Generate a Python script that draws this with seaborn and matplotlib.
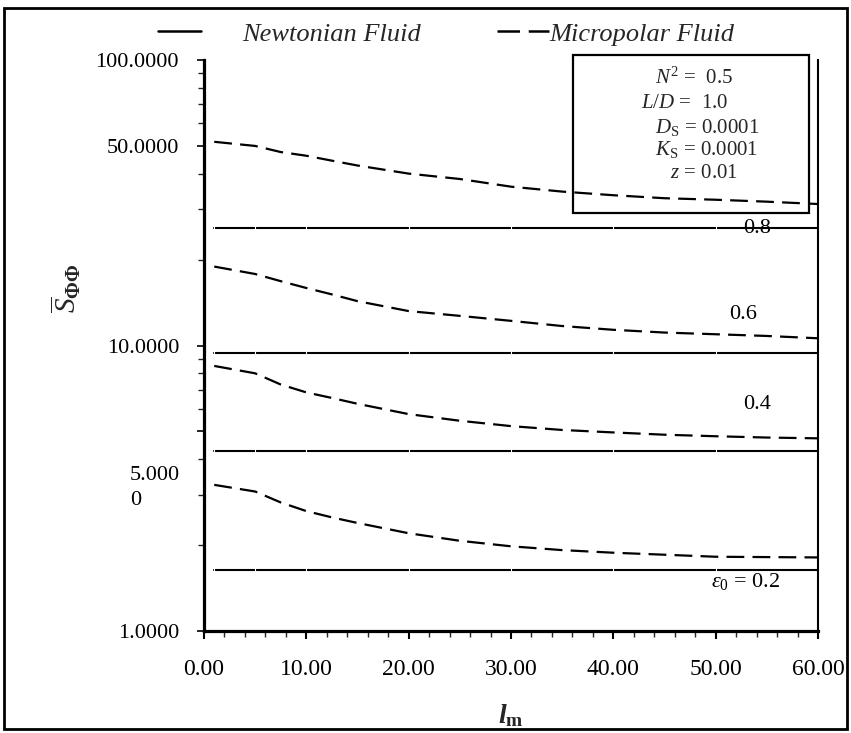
import numpy as np
import pandas as pd
import seaborn as sns
import matplotlib
matplotlib.use("Agg")
import matplotlib.pyplot as plt
from matplotlib.patches import Rectangle
from matplotlib.lines import Line2D
from matplotlib.ticker import FixedLocator, NullFormatter
import matplotlib.transforms as mtransforms

# ---------------- data ----------------
eps_levels = ["0.2", "0.4", "0.6", "0.8"]
lm_newton = [1, 5, 10, 20, 30, 40, 50, 60]
newton_08 = [25.9] * 8
newton_06 = [9.39] * 8
newton_04 = [4.27] * 8
newton_02 = [1.636] * 8

lm_micro = [1, 5, 7.5, 10, 12.5, 15, 20, 25, 30, 35, 40, 45, 50, 55, 60]
micro_08 = [51.7, 50.0, 47.6, 46.2, 44.4, 42.7, 40.0, 38.3, 36.0, 34.6, 33.6, 32.8, 32.4, 31.9, 31.3]
micro_06 = [18.9, 17.8, 16.8, 15.9, 15.1, 14.3, 13.2, 12.7, 12.2, 11.7, 11.35, 11.1, 10.95, 10.8, 10.6]
micro_04 = [8.48, 7.99, 7.3, 6.85, 6.55, 6.25, 5.75, 5.45, 5.22, 5.06, 4.96, 4.87, 4.81, 4.76, 4.73]
micro_02 = [3.25, 3.08, 2.82, 2.63, 2.50, 2.39, 2.20, 2.07, 1.98, 1.92, 1.88, 1.85, 1.82, 1.815, 1.81]

y_ticks = [1, 5, 10, 50, 100]
y_ticklabels = ["1.0000", "", "10.0000", "50.0000", "100.0000"]
y_minor = [2, 3, 4, 6, 7, 8, 9, 20, 30, 40, 60, 70, 80, 90]
x_ticks = [0, 10, 20, 30, 40, 50, 60]
x_ticklabels = ["0.00", "10.00", "20.00", "30.00", "40.00", "50.00", "60.00"]

label_pos = {"0.8": (54.0, 25.6), "0.6": (52.7, 12.8), "0.4": (54.0, 6.19), "0.2": (52.9, 1.485)}

newton = {"0.8": newton_08, "0.6": newton_06, "0.4": newton_04, "0.2": newton_02}
micro = {"0.8": micro_08, "0.6": micro_06, "0.4": micro_04, "0.2": micro_02}

rows = []
for e in eps_levels:
    for x, y in zip(lm_newton, newton[e]):
        rows.append({"lm": x, "S": y, "eps": e, "fluid": "Newtonian Fluid"})
    for x, y in zip(lm_micro, micro[e]):
        rows.append({"lm": x, "S": y, "eps": e, "fluid": "Micropolar Fluid"})
df = pd.DataFrame(rows)

# ---------------- style ----------------
sns.set_theme(style="ticks")
plt.rcParams["font.family"] = ["Liberation Serif", "DejaVu Serif"]
plt.rcParams["mathtext.fontset"] = "custom"
plt.rcParams["mathtext.rm"] = "Liberation Serif"
plt.rcParams["mathtext.it"] = "Liberation Serif:italic"
plt.rcParams["mathtext.bf"] = "Liberation Serif:bold"
plt.rcParams["mathtext.bfit"] = "Liberation Serif:bold:italic"

W, H = 851, 733
DASH = (0, (8, 3.7))
fig = plt.figure(figsize=(W / 100, H / 100), dpi=100)
ax = fig.add_axes([204 / W, 1 - 631 / H, (818 - 204) / W, (631 - 60) / H])

for e in eps_levels:
    d_n = df[(df.eps == e) & (df.fluid == "Newtonian Fluid")]
    sns.lineplot(data=d_n, x="lm", y="S", ax=ax, color="black", linewidth=1.5,
                 marker="|", markersize=4, markeredgewidth=0.8, estimator=None, legend=False)
    d_m = df[(df.eps == e) & (df.fluid == "Micropolar Fluid")]
    sns.lineplot(data=d_m, x="lm", y="S", ax=ax, color="black", linewidth=1.6,
                 linestyle=DASH, estimator=None, legend=False)

ax.set_yscale("log")
ax.set_xlim(0, 60)
ax.set_ylim(1, 100)
ax.yaxis.set_major_locator(FixedLocator(y_ticks))
ax.set_yticklabels(y_ticklabels)
ax.yaxis.set_minor_locator(FixedLocator(y_minor))
ax.yaxis.set_minor_formatter(NullFormatter())
ax.set_xticks(x_ticks)
ax.set_xticklabels(x_ticklabels)
ax.xaxis.set_minor_locator(FixedLocator(np.arange(0, 61, 2)))
ax.set_xlabel("")
ax.set_ylabel("")

ax.tick_params(axis="y", which="major", direction="out", length=5, width=1.2, pad=13,
               labelsize=16, colors="black", left=True)
ax.tick_params(axis="y", which="minor", direction="out", length=4, width=1.0, left=True)
ax.tick_params(axis="x", which="major", direction="out", length=6, width=1.5, pad=14,
               labelsize=17, colors="black", bottom=True)
ax.tick_params(axis="x", which="minor", direction="out", length=4, width=1.0, bottom=True)

ax.spines["top"].set_visible(False)
ax.spines["right"].set_visible(True)
ax.spines["right"].set_linewidth(1.5)
ax.spines["left"].set_linewidth(2.3)
ax.spines["bottom"].set_linewidth(2.3)
for s in ax.spines.values():
    s.set_color("black")
ax.patch.set_alpha(0)

# tick label for 5 (wrapped in the original)
trans = mtransforms.blended_transform_factory(ax.transAxes, ax.transData)
ax.text(-0.039, 3.17, "5.000\n0", transform=trans, ha="right", va="center",
        multialignment="left", linespacing=1.4, fontsize=16, color="black")

# curve labels
for e, (lx, ly) in label_pos.items():
    txt = r"$\varepsilon_0$ = 0.2" if e == "0.2" else e
    ax.text(lx, ly, txt, ha="center", va="center", fontsize=16, color="black")

# axis labels
fig.text(511 / W, 1 - 716 / H, r"$\mathbfit{l}_{\mathbf{m}}$", ha="center", va="center", fontsize=20)
fig.text(66 / W, 1 - 288 / H, r"$\overline{S}_{\mathbf{\Phi\Phi}}$", ha="center", va="center",
         rotation=90, fontsize=21)

# parameter box
fig.patches.append(Rectangle((573 / W, 1 - 213 / H), (809 - 573) / W, (213 - 55) / H,
                             transform=fig.transFigure, fill=False, edgecolor="black", linewidth=1.6))
box_lines = [
    (694, 78, r"$N^2$ =  0.5"),
    (685, 103, r"$L/D$ =  1.0"),
    (707, 127, r"$D_\mathrm{S}$ = 0.0001"),
    (707, 150, r"$K_\mathrm{S}$ = 0.0001"),
    (704, 173, r"$z$ = 0.01"),
]
for bx, by, t in box_lines:
    fig.text(bx / W, 1 - by / H, t, ha="center", va="center", fontsize=15)

# legend (two entries, placed as in the original)
leg_prop = {"family": "Liberation Serif", "style": "italic", "size": 19}
leg1 = fig.legend([Line2D([], [], color="black", linewidth=1.8)], ["Newtonian Fluid"],
                  loc="center left", bbox_to_anchor=(158 / W, 1 - 34 / H), frameon=False,
                  prop=leg_prop, handlelength=1.63, handletextpad=1.55, borderpad=0, borderaxespad=0)
leg2 = fig.legend([Line2D([], [], color="black", linewidth=1.8, linestyle=(0, (9.0, 3.5)))],
                  ["Micropolar Fluid"],
                  loc="center left", bbox_to_anchor=(497 / W, 1 - 34 / H), frameon=False,
                  prop=leg_prop, handlelength=1.97, handletextpad=0.0, borderpad=0, borderaxespad=0)

# figure border
fig.patches.append(Rectangle((4 / W, 4 / H), (847 - 4) / W, (725 - 4) / H,
                             transform=fig.transFigure, fill=False, edgecolor="black", linewidth=2.0))

fig.savefig("out.png", dpi=100)
